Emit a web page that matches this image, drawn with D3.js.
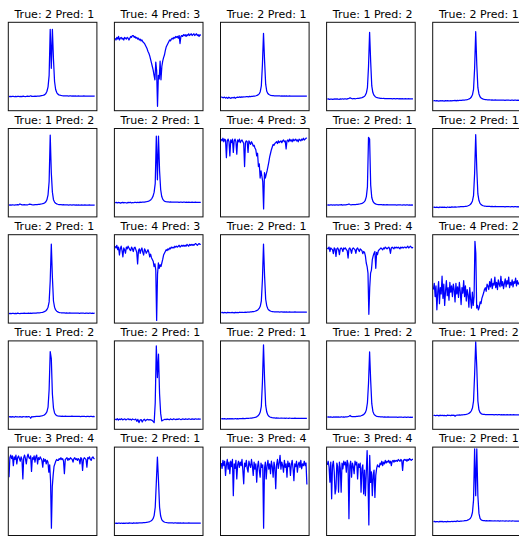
<!DOCTYPE html>
<html>
<head>
<meta charset="utf-8">
<script src="https://cdn.jsdelivr.net/npm/d3@7"></script>
<style>
  body { margin: 0; background: #fff; }
  text { font-family: "DejaVu Sans", sans-serif; }
</style>
</head>
<body>
<svg width="519" height="536"></svg>
<script>
// titles, row by row
var trueLabels = [2, 4, 2, 1, 2,  1, 2, 4, 2, 2,  2, 4, 2, 3, 4,  1, 2, 2, 1, 1,  3, 2, 3, 3, 2]
var predLabels = [1, 3, 1, 2, 1,  2, 1, 3, 1, 1,  1, 3, 1, 4, 2,  2, 1, 1, 2, 2,  4, 1, 4, 4, 1]

// spectra, values (percent of panel height)
var s00 = [16.0,16.3,15.9,16.2,16.1,15.8,16.2,16.0,16.3,16.1,15.9,16.2,16.0,16.4,16.1,16.0,16.2,16.5,16.1,16.3,16.9,16.2,16.1,16.3,16.4,16.2,16.5,16.6,16.5,16.8,17.0,17.2,17.6,18.2,19.4,22,27,40,92,48,92,58,33,24,20.5,18.8,17.9,17.5,17.2,17.0,16.9,16.8,16.9,16.7,16.8,16.6,16.7,16.8,16.6,16.7,16.5,16.7,16.6,16.5,16.7,16.6,16.4,16.6,16.5,16.7,16.5,16.4,16.6,16.5,16.4,16.6,16.5,16.4,16.5,16.4]
var s01 = [82,80,83,81,84,80,82,83,81,82,80,83,82,81,83,82,80,82,84,83,85,85,83,84,82,83,81,82,80,81,79,80,78,77,76,74,72,70,67,65,62,58,54,50,46,40,35,55,45,5,40,36,56,35,50,56,60,63,68,72,74,76,78,80,79,81,82,81,83,82,84,83,84,82,85,76,84,85,84,86,85,86,84,86,85,87,85,86,87,85,86,87,85,86,87,85,86,84,86,85]
var s02 = [15.8,15.0,14.6,15.4,14.2,15.1,13.9,15.2,14.5,14.0,15.0,14.4,15.3,14.1,14.9,15.4,15.0,15.6,15.1,15.7,15.4,15.8,15.5,15.9,16.0,15.7,16.1,15.9,16.2,16.2,16.4,16.6,16.9,17.3,17.9,19.0,21.5,28,52,87.5,56,30,22,19.5,18.3,17.7,17.3,17.1,17.0,16.9,16.8,16.9,16.7,16.8,16.7,16.6,16.8,16.6,16.7,16.5,16.7,16.6,16.5,16.7,16.6,16.5,16.6,16.4,16.6,16.5,16.6,16.4,16.5,16.6,16.4,16.5,16.6,16.4,16.5,16.5]
var s03 = [13.0,13.3,12.9,13.2,13.1,12.8,13.2,13.3,13.0,13.4,13.1,12.9,13.3,13.2,13.5,13.1,13.3,13.4,13.2,13.6,14.0,14.6,13.9,13.5,13.6,13.7,13.5,13.8,13.9,14.0,14.2,14.4,14.8,15.3,16.0,17.4,20,26,50,88.7,55,28,20.5,17.6,16.1,15.2,14.7,14.4,14.2,14.0,13.9,13.8,13.9,13.7,13.8,13.6,13.7,13.8,13.6,13.7,13.5,13.7,13.6,13.5,13.7,13.6,13.4,13.6,13.5,13.7,13.5,13.4,13.6,13.5,13.4,13.6,13.5,13.4,13.5,13.4]
var s04 = [11.2,11.5,11.0,11.4,11.1,10.8,11.3,11.0,11.4,11.2,10.9,11.3,11.1,11.5,11.2,11.0,11.4,11.2,11.5,11.3,11.6,11.2,11.7,11.4,11.6,11.8,11.6,11.9,12.0,12.1,12.3,12.5,12.9,13.4,14.1,15.5,18,24,48,89.4,52,26,19,15.8,14.4,13.6,13.1,12.8,12.6,12.4,12.3,12.2,12.3,12.1,12.2,12.0,12.1,12.2,12.0,12.1,11.9,12.1,12.0,11.9,12.1,12.0,11.8,12.0,11.9,12.1,11.9,11.8,12.0,11.9,11.8,12.0,11.9,11.8,11.9,11.8]

var s10 = [13.4,13.6,13.3,13.7,13.5,13.4,13.6,13.5,13.8,13.6,14.6,14.1,13.7,13.6,13.8,13.5,13.7,13.6,14.0,14.5,14.2,13.8,13.6,13.7,13.8,13.9,14.0,14.1,14.2,14.4,14.6,14.9,15.3,16.0,17.2,19.5,25,40,92.5,50,28,19.5,16.8,15.4,14.7,14.3,14.0,13.9,13.8,13.7,13.8,13.6,13.5,13.7,13.6,13.4,13.6,13.5,13.4,13.6,13.5,13.3,13.5,13.4,13.6,13.4,13.3,13.5,13.4,13.3,13.5,13.4,13.3,13.4,13.5,13.3,13.4,13.3,13.4,13.3]
var s11 = [16.0,16.4,15.8,16.3,16.1,15.6,16.2,16.5,15.9,16.3,16.0,15.7,16.4,16.1,16.6,15.8,16.2,16.0,16.5,16.3,16.1,16.6,16.2,16.7,16.4,16.6,16.8,16.7,17.0,17.2,17.5,17.9,18.5,19.5,21,23.5,28,38,91.3,42,91.3,52,31,23,19.8,18.3,17.6,17.2,17.0,16.9,16.8,16.9,16.7,16.8,16.6,16.7,16.8,16.6,16.7,16.5,16.7,16.6,16.5,16.7,16.6,16.4,16.6,16.5,16.7,16.5,16.4,16.6,16.5,16.4,16.6,16.5,16.4,16.5,16.4,16.5]
var s12 = [88,86,89,85,88,87,67,86,88,85,69,87,84,88,73,86,88,85,71,87,85,88,84,86,87,85,83,57,84,86,85,73,86,84,82,85,83,80,81,78,76,69,72,57,60,44,52,46,40,9,50,44,48,52,57,62,68,72,76,79,82,81,83,84,85,83,86,84,85,86,84,86,87,85,86,77,86,87,85,88,86,87,85,88,86,87,88,86,87,85,88,87,86,88,87,89,87,88,89,89]
var s13 = [13.4,13.7,13.3,13.6,13.5,13.2,13.7,13.4,13.6,13.5,13.3,13.7,13.5,13.8,13.4,13.6,13.5,13.7,13.9,14.1,14.6,14.0,13.7,13.8,13.9,13.8,14.0,14.1,14.2,14.4,14.6,14.9,15.3,16.0,17.0,18.8,23,34,90,88,36,22,17.8,15.9,15.0,14.5,14.2,14.0,13.9,13.8,13.9,13.7,13.8,13.6,13.7,13.8,13.6,13.7,13.5,13.7,13.6,13.5,13.7,13.6,13.4,13.6,13.5,13.7,13.5,13.4,13.6,13.5,13.4,13.6,13.5,13.4,13.5,13.4,13.5,13.4]
var s14 = [10.8,11.1,10.6,11.0,10.9,10.5,11.2,10.8,11.0,10.7,11.1,10.9,10.6,11.2,10.9,11.0,10.8,11.3,11.0,11.1,11.3,11.0,11.2,11.4,11.3,11.5,11.6,11.5,11.7,11.8,12.0,12.2,12.6,13.2,14.0,15.4,18,24,49,93,54,26,18.5,15.3,13.9,13.1,12.6,12.3,12.1,12.0,11.9,11.8,11.9,11.7,11.8,11.6,11.7,11.8,11.6,11.7,11.5,11.7,11.6,11.5,11.7,11.6,11.4,11.6,11.5,11.7,11.5,11.4,11.6,11.5,11.4,11.6,11.5,11.4,11.5,11.4]

var s20 = [10.7,11.0,10.8,11.1,10.9,10.7,11.0,10.8,11.2,10.9,10.8,11.1,10.9,11.0,11.2,10.9,11.1,11.0,11.3,11.1,11.2,11.0,11.3,11.2,11.4,11.3,11.5,11.6,11.7,11.8,12.0,12.2,12.6,13.2,14.0,15.4,18,24,48,89.4,52,25,18,14.9,13.5,12.7,12.2,11.9,11.7,11.6,11.5,11.6,11.4,11.5,11.3,11.4,11.5,11.3,11.4,11.2,11.4,11.3,11.2,11.4,11.3,11.1,11.3,11.2,11.4,11.2,11.1,11.3,11.2,11.1,11.3,11.2,11.1,11.2,11.1,11.2]
var s21 = [87,85,88,83,86,77,84,87,82,75,85,83,79,86,84,87,85,83,82,86,84,81,85,86,83,80,67,82,84,79,83,85,80,77,84,82,79,81,83,80,75,78,74,72,70,64,67,60,3,55,68,62,66,64,68,72,77,79,81,83,82,84,83,85,84,86,85,86,85,87,86,87,86,87,88,86,87,88,87,88,87,88,87,89,88,87,89,88,89,88,89,88,89,90,89,88,89,90,89,89]
var s22 = [11.8,12.1,11.6,12.0,11.9,11.5,12.2,11.8,12.0,11.7,12.1,11.9,11.6,12.2,11.9,12.0,11.8,12.3,12.0,12.1,12.2,12.0,12.3,12.2,12.4,12.3,12.5,12.6,12.7,12.9,13.1,13.4,13.8,14.4,15.2,16.6,19,25,49,89.4,53,27,19.5,16.2,14.7,13.9,13.4,13.1,12.9,12.8,12.7,12.8,12.6,12.7,12.5,12.6,12.7,12.5,12.6,12.4,12.6,12.5,12.4,12.6,12.5,12.3,12.5,12.4,12.6,12.4,12.3,12.5,12.4,12.3,12.5,12.4,12.3,12.4,12.3,12.4]
var s23 = [85,84,86,81,85,84,83,78.5,85,84,75.5,84,85,83,77.4,84,85,84,81,85,84,85,83,82,73.6,84,85,83,79,84,85,84,83,79,84,85,83,81,84,83,82,78.5,81,80,76,68,64,56.6,10,40,56.6,60,71.7,76,79,81,62,80,77.4,82,83,84,85,84,83,85,84,86,85,84,85,86,84,79,85,86,85,84,86,85,86,85,86,85,84,86,85,86,85,86,86,85,86,87,85,86,87,86,85,86]
var s24 = [38,45,30,42,15,35,47,22,40,33,53,28,44,20,36,48,31,40,26,46,35,42,30,44,38,24,45,33,41,29,46,36,21,40,34,48,30,42,25,38,32,18,40,27,17,35,20,30,92.5,79,17,20,15,18,24,22,28,31,34,38,40,36,44,42,38,47,41,50,39,45,43,52,40,46,38,49,44,41,53,42,47,39,45,50,41,48,44,52,40,46,43,49,41,47,45,51,42,48,44,46]

var s30 = [14.0,14.4,13.8,14.3,14.1,13.7,14.5,14.0,14.2,13.9,14.3,14.1,13.8,14.4,14.2,14.0,14.3,14.1,14.4,14.2,12.5,14.3,14.1,14.4,14.3,14.5,14.6,14.5,14.7,14.9,15.1,15.4,15.9,16.6,17.8,20,25,45,88,80,40,24,18.5,16.4,15.5,15.1,14.9,14.8,14.7,14.8,14.6,14.7,14.8,14.6,14.7,14.5,14.7,14.6,14.8,14.6,14.5,14.7,14.6,14.5,14.7,14.6,14.4,14.6,14.5,14.7,14.5,14.4,14.6,14.5,14.4,14.6,14.5,14.4,14.5,14.4]
var s31 = [11.5,10.8,11.9,10.5,11.6,11.0,12.0,10.7,11.4,11.8,10.6,11.3,11.9,10.9,11.5,10.4,11.7,11.1,10.8,11.6,9.0,11.2,7.5,10.4,11.0,8.2,10.6,11.4,9.5,10.8,11.2,10.5,11.0,10.6,10.2,9.0,7.5,30,94.3,58.5,85,40,18,9.4,10.2,10.8,11.4,10.9,11.6,11.2,10.8,11.7,11.3,11.0,11.8,11.4,10.9,11.6,11.2,11.9,11.3,11.0,11.7,11.5,11.1,11.8,11.4,11.2,11.9,11.5,11.3,11.8,11.6,11.2,11.9,11.5,11.4,11.8,11.6,11.5]
var s32 = [11.8,12.1,11.7,12.0,11.9,11.6,12.1,11.8,12.0,11.7,12.1,11.9,11.7,12.2,11.9,12.0,11.8,12.2,12.0,12.1,12.4,12.0,12.2,12.3,12.4,12.3,12.5,12.6,12.7,12.9,13.1,13.4,13.8,14.4,15.3,16.8,19.5,26,53,95.5,56,27,19.5,16.2,14.7,13.9,13.4,13.1,12.9,12.8,12.7,12.8,12.6,12.7,12.5,12.6,12.7,12.5,12.6,12.4,12.6,12.5,12.4,12.6,12.5,12.3,12.5,12.4,12.6,12.4,12.3,12.5,12.4,12.3,12.5,12.4,12.3,12.4,12.3,12.4]
var s33 = [13.8,14.1,13.7,14.0,13.9,13.6,14.1,13.8,14.0,13.7,14.1,13.9,13.7,14.2,13.9,14.0,13.8,14.2,14.0,14.3,14.8,15.6,14.6,14.2,14.3,14.4,14.3,14.5,14.6,14.8,15.0,15.3,15.7,16.3,17.2,18.8,22,30,52,87.5,55,29,20.5,17.2,15.8,15.0,14.6,14.4,14.2,14.1,14.0,14.1,13.9,14.0,13.8,13.9,14.0,13.8,13.9,13.7,13.9,13.8,13.7,13.9,13.8,13.6,13.8,13.7,13.9,13.7,13.6,13.8,13.7,13.6,13.8,13.7,13.6,13.7,13.6,13.7]
var s34 = [15.6,15.9,15.3,15.8,15.7,15.2,16.0,15.5,15.9,15.4,15.8,15.6,15.3,16.0,15.7,15.8,15.5,16.1,15.8,15.9,14.8,15.9,16.1,16.0,16.2,16.1,16.3,16.4,16.5,16.7,16.9,17.2,17.6,18.3,19.2,21,24,32,62,98.9,70,32,22,19.0,17.8,17.2,16.9,16.8,16.7,16.6,16.7,16.5,16.6,16.7,16.5,16.6,16.4,16.6,16.5,16.4,16.6,16.5,16.3,16.5,16.4,16.6,16.4,16.3,16.5,16.4,16.3,16.5,16.4,16.3,16.5,16.4,16.3,16.4,16.3,16.4]

var s40 = [66,88,91,87,90,79,89,86,91,81,88,90,87,84,89,86,64,88,91,87,81,89,92,88,87,90,72.5,88,86,90,83,89,91,81,88,86,89,87,85,77.4,87,84,86,81,85,83,71.7,80,62,8.3,55,68,78,81,84,86,85,85,87,86,88,86,87,84,70,86,87,88,85,87,86,88,87,86,83,87,88,86,87,85,87,86,81,88,87,73.6,86,88,87,86,77.4,88,87,89,86,85,88,89,87,87]
var s41 = [13.8,14.1,13.7,14.0,13.9,13.6,14.1,13.8,14.0,13.7,14.1,13.9,13.7,14.2,13.9,14.0,13.8,14.2,14.0,14.1,14.3,14.0,14.2,14.3,14.4,14.3,14.5,14.6,14.7,14.9,15.1,15.4,15.8,16.4,17.3,19,22.5,32,60,88.7,62,32,22,18,16.3,15.5,15.0,14.7,14.5,14.4,14.3,14.4,14.2,14.3,14.1,14.2,14.3,14.1,14.2,14.0,14.2,14.1,14.0,14.2,14.1,13.9,14.1,14.0,14.2,14.0,13.9,14.1,14.0,13.9,14.1,14.0,13.9,14.0,13.9,14.0]
var s42 = [82,76,85,79,84,68,80,86,75,83,70,84,78,86,45,81,76,85,64,80,84,77,83,79,86,74,58.5,82,78,85,76,71.7,84,80,77,86,79,68,83,75,81,60.4,78,84,74,66,82,77,80,8.3,76,83,64,79,85,75,81,70,84,78,66,83,77,53,80,86,76,82,90.6,75,83,79,71.7,85,77,81,66,84,78,82,68,80,85,76,62,81,78,84,71.7,80,83,77,85,75.5,81,79,84,79,82,57.7]
var s43 = [80,84,78,60.4,83,41.5,79,84,72,47,53,82,78,49,83,76,49,82,75.5,84,80,83,71.7,85,81,19,79,84,66,82,78,70,84,80,83,64,81,77,82,49,76,80,47,74,45,70,96,64,12,90.6,60,72,45,68,74,43,68,76,80,78,77.4,82,80,84,79,83,81,85,82,84,83,85,82,84,79,84,85,83,85,84,85,84,86,85,84,86,85,73.6,85,86,85,86,84,86,85,87,86,85,86,86]
var s44 = [15.6,15.9,15.4,15.8,15.7,15.3,16.0,15.6,15.9,15.5,15.8,15.6,15.4,16.0,15.7,15.8,15.6,16.1,15.8,15.9,16.0,15.8,16.5,16.1,16.0,16.2,16.3,16.4,16.5,16.7,16.9,17.2,17.6,18.3,19.3,21.5,26,40,98,45,98,45,25,19.5,17.8,17.1,16.8,16.7,16.6,16.7,16.5,16.6,16.7,16.5,16.6,16.4,16.6,16.5,16.4,16.6,16.5,16.3,16.5,16.4,16.6,16.4,16.3,16.5,16.4,16.3,16.5,16.4,16.3,16.5,16.4,16.3,16.4,16.3,16.4,16.3]

var spectra = [s00, s01, s02, s03, s04, s10, s11, s12, s13, s14, s20, s21, s22, s23, s24,
               s30, s31, s32, s33, s34, s40, s41, s42, s43, s44]

var cols = 5
var left0 = 8.3, top0 = 22.3, stepX = 106.1, stepY = 106.2
var w = 88.6, h = 88.4

var svg = d3.select("svg")

var yScale = d3.scaleLinear().domain([0, 100]).range([h, 0])

spectra.forEach((vals, k) => {
    var col = k % cols, row = Math.floor(k / cols)
    var g = svg.append("g")
        .attr("class", "panel")
        .attr("transform", "translate(" + (left0 + col * stepX) + "," + (top0 + row * stepY) + ")")

    var xScale = d3.scaleLinear().domain([0, vals.length - 1]).range([w * 0.008, w * 0.975])

    g.append("clipPath").attr("id", "clip" + k)
        .append("rect").attr("width", w).attr("height", h)

    var line = d3.line()
        .x((d, i) => xScale(i))
        .y(d => yScale(d))

    g.append("path")
        .datum(vals)
        .attr("clip-path", "url(#clip" + k + ")")
        .attr("fill", "none")
        .attr("stroke", "#0000ff")
        .attr("stroke-width", 1.25)
        .attr("stroke-linejoin", "round")
        .attr("d", line)

    // frame on top of the line, like matplotlib spines
    g.append("rect")
        .attr("width", w)
        .attr("height", h)
        .attr("fill", "none")
        .attr("stroke", "#111")
        .attr("stroke-width", 1)

    g.append("text")
        .attr("x", w / 2 + 1.8)
        .attr("y", -4.8)
        .attr("text-anchor", "middle")
        .attr("font-size", "11px")
        .attr("fill", "#000")
        .text("True: " + trueLabels[k] + " Pred: " + predLabels[k])
})
</script>
</body>
</html>
